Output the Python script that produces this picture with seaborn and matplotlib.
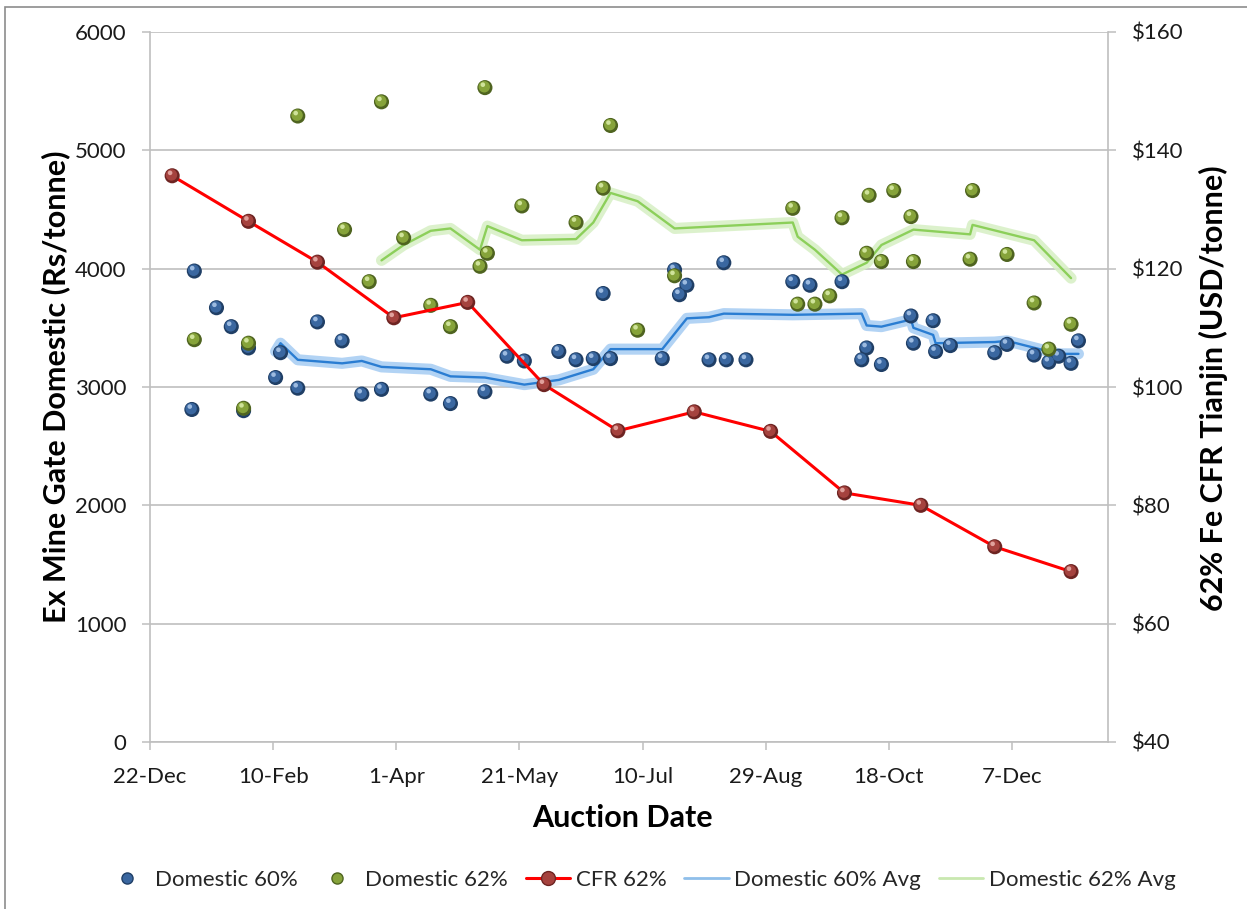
import pandas as pd
import matplotlib
matplotlib.use("Agg")
import matplotlib.pyplot as plt
import matplotlib.transforms as mtransforms
from matplotlib.lines import Line2D
from matplotlib.patches import Rectangle
from matplotlib.ticker import FuncFormatter, FixedLocator
import seaborn as sns

# Domestic 60% auction prices (Rs/tonne)
dom60_dates = ["2014-01-08", "2014-01-09", "2014-01-18", "2014-01-24", "2014-01-29", "2014-01-31",
               "2014-02-11", "2014-02-13", "2014-02-20", "2014-02-28", "2014-03-10", "2014-03-18",
               "2014-03-26", "2014-04-15", "2014-04-23", "2014-05-07", "2014-05-16", "2014-05-23",
               "2014-06-06", "2014-06-13", "2014-06-20", "2014-06-24", "2014-06-27", "2014-07-18",
               "2014-07-23", "2014-07-25", "2014-07-28", "2014-08-06", "2014-08-12", "2014-08-13",
               "2014-08-21", "2014-09-09", "2014-09-16", "2014-09-29", "2014-10-07", "2014-10-09",
               "2014-10-15", "2014-10-27", "2014-10-28", "2014-11-05", "2014-11-06", "2014-11-12",
               "2014-11-30", "2014-12-05", "2014-12-16", "2014-12-22", "2014-12-26", "2014-12-31",
               "2015-01-03"]
dom60_values = [2810, 3980, 3670, 3510, 2800, 3330,
                3080, 3290, 2990, 3550, 3390, 2940,
                2980, 2940, 2860, 2960, 3260, 3220,
                3300, 3230, 3240, 3790, 3240, 3240,
                3990, 3780, 3860, 3230, 4050, 3230,
                3230, 3890, 3860, 3890, 3230, 3330,
                3190, 3600, 3370, 3560, 3300, 3350,
                3290, 3360, 3270, 3210, 3260, 3200,
                3390]

# Domestic 62% auction prices (Rs/tonne)
dom62_dates = ["2014-01-09", "2014-01-29", "2014-01-31", "2014-02-20", "2014-03-11", "2014-03-21",
               "2014-03-26", "2014-04-04", "2014-04-15", "2014-04-23", "2014-05-05", "2014-05-07",
               "2014-05-08", "2014-05-22", "2014-06-13", "2014-06-24", "2014-06-27", "2014-07-08",
               "2014-07-23", "2014-09-09", "2014-09-11", "2014-09-18", "2014-09-24", "2014-09-29",
               "2014-10-09", "2014-10-10", "2014-10-15", "2014-10-20", "2014-10-27", "2014-10-28",
               "2014-11-20", "2014-11-21", "2014-12-05", "2014-12-16", "2014-12-22", "2014-12-31"]
dom62_values = [3400, 2820, 3370, 5290, 4330, 3890,
                5410, 4260, 3690, 3510, 4020, 5530,
                4130, 4530, 4390, 4680, 5210, 3480,
                3940, 4510, 3700, 3700, 3770, 4430,
                4130, 4620, 4060, 4660, 4440, 4060,
                4080, 4660, 4120, 3710, 3320, 3530]

# 62% Fe CFR Tianjin (USD/tonne), month end
cfr_dates = ["2013-12-31", "2014-01-31", "2014-02-28", "2014-03-31", "2014-04-30", "2014-05-31",
             "2014-06-30", "2014-07-31", "2014-08-31", "2014-09-30", "2014-10-31", "2014-11-30",
             "2014-12-31"]
cfr_values = [135.7, 128.0, 121.1, 111.7, 114.3, 100.4, 92.6, 95.8, 92.5, 82.1, 80.0, 73.0, 68.8]

# running averages
avg60_dates = ["2014-02-11", "2014-02-13", "2014-02-20", "2014-03-10", "2014-03-18", "2014-03-26",
               "2014-04-15", "2014-04-23", "2014-05-07", "2014-05-23", "2014-06-06", "2014-06-20",
               "2014-06-27", "2014-07-18", "2014-07-28", "2014-08-06", "2014-08-12", "2014-09-09",
               "2014-10-07", "2014-10-09", "2014-10-15", "2014-10-27", "2014-10-28", "2014-11-05",
               "2014-11-06", "2014-11-30", "2014-12-05", "2014-12-22", "2014-12-26", "2015-01-03"]
avg60_values = [3300, 3370, 3230, 3200, 3220, 3170,
                3150, 3090, 3080, 3020, 3060, 3150,
                3320, 3320, 3580, 3590, 3620, 3610,
                3620, 3520, 3510, 3570, 3500, 3440,
                3370, 3380, 3390, 3300, 3280, 3280]

avg62_dates = ["2014-03-26", "2014-04-04", "2014-04-15", "2014-04-23", "2014-05-05", "2014-05-08",
               "2014-05-22", "2014-06-13", "2014-06-20", "2014-06-27", "2014-07-08", "2014-07-23",
               "2014-09-09", "2014-09-11", "2014-09-18", "2014-09-29", "2014-10-09", "2014-10-15",
               "2014-10-28", "2014-11-20", "2014-11-21", "2014-12-16", "2014-12-31"]
avg62_values = [4070, 4200, 4320, 4340, 4160, 4360,
                4240, 4250, 4390, 4640, 4570, 4340,
                4390, 4270, 4160, 3950, 4050, 4200,
                4330, 4290, 4370, 4240, 3920]

x_ticks = pd.date_range("2013-12-22", periods=8, freq="50D")

sns.set_theme(style="white")
plt.rcParams["font.family"] = ["Lato", "DejaVu Sans"]

fig = plt.figure(figsize=(12.47, 9.09), dpi=100)
ax = fig.add_axes([150 / 1247, 1 - 742 / 909, 958 / 1247, 710 / 909])
ax2 = ax.twinx()

d60 = pd.to_datetime(pd.Series(dom60_dates))
d62 = pd.to_datetime(pd.Series(dom62_dates))
dcfr = pd.to_datetime(pd.Series(cfr_dates))
da60 = pd.to_datetime(pd.Series(avg60_dates))
da62 = pd.to_datetime(pd.Series(avg62_dates))

# averages with a soft glow
sns.lineplot(x=da60, y=avg60_values, ax=ax, color="#9fc8f2", lw=8, alpha=0.8,
             estimator=None, sort=False, zorder=2, legend=False)
sns.lineplot(x=da60, y=avg60_values, ax=ax, color="#2a7dd2", lw=1.7,
             estimator=None, sort=False, zorder=2.1, legend=False)
sns.lineplot(x=da62, y=avg62_values, ax=ax, color="#d6efc4", lw=8, alpha=0.85,
             estimator=None, sort=False, zorder=2, legend=False)
sns.lineplot(x=da62, y=avg62_values, ax=ax, color="#8ccf5a", lw=1.7,
             estimator=None, sort=False, zorder=2.1, legend=False)


def spheres(axis, x, y, dark, mid, light, z):
    # shaded ball markers
    sns.scatterplot(x=x, y=y, ax=axis, s=118, color=dark, edgecolor="none", zorder=z, legend=False)
    t1 = mtransforms.offset_copy(axis.transData, fig=fig, x=-0.5, y=0.6, units="points")
    axis.scatter(x, y, s=68, color=mid, edgecolors="none", transform=t1, zorder=z + 0.1)
    t2 = mtransforms.offset_copy(axis.transData, fig=fig, x=-1.5, y=2.1, units="points")
    axis.scatter(x, y, s=11, color=light, edgecolors="none", transform=t2, zorder=z + 0.2)


spheres(ax, d60, dom60_values, "#203f66", "#3a67a0", "#9dbbe0", 3)
spheres(ax, d62, dom62_values, "#4f6420", "#86a33a", "#cfe39a", 3.5)

sns.lineplot(x=dcfr, y=cfr_values, ax=ax2, color="#ff0000", lw=2.2,
             estimator=None, sort=False, zorder=2, legend=False)
spheres(ax2, dcfr, cfr_values, "#6e2422", "#a5423e", "#e0a19c", 3)

ax.set_xlim(pd.Timestamp("2013-12-22"), pd.Timestamp("2015-01-15"))
ax.set_ylim(0, 6000)
ax2.set_ylim(40, 160)
ax.set_yticks(range(0, 6001, 1000))
ax2.set_yticks(range(40, 161, 20))
ax2.yaxis.set_major_formatter(FuncFormatter(lambda v, p: f"${v:.0f}"))
ax.xaxis.set_major_locator(FixedLocator([matplotlib.dates.date2num(d) for d in x_ticks]))
ax.xaxis.set_major_formatter(FuncFormatter(
    lambda v, p: f"{matplotlib.dates.num2date(v).day}-{matplotlib.dates.num2date(v).strftime('%b')}"))
ax.set_xlabel("")
ax.set_ylabel("")
ax2.set_ylabel("")

grey = "#bfbfbf"
ax.yaxis.grid(True, color=grey, lw=1.2)
ax.xaxis.grid(False)
ax2.grid(False)
for a in (ax, ax2):
    a.spines["top"].set_visible(False)
    for s in ("left", "right", "bottom"):
        a.spines[s].set_color(grey)
        a.spines[s].set_linewidth(1.2)
ax.spines["right"].set_visible(False)
ax2.spines["left"].set_visible(False)
ax2.spines["bottom"].set_visible(False)

ax.tick_params(axis="both", which="major", length=6, width=1.1, color=grey,
               labelsize=16, labelcolor="#1a1a1a", direction="out", pad=10)
ax.tick_params(axis="y", left=True, pad=11)
ax.tick_params(axis="x", bottom=True, pad=12)
ax2.tick_params(axis="y", right=True, length=6, width=1.1, color=grey,
                labelsize=16, labelcolor="#1a1a1a", direction="out", pad=11)

fig.text(56 / 1247, 1 - 387 / 909, "Ex Mine Gate Domestic (Rs/tonne)", rotation=90,
         ha="center", va="center", fontsize=22, fontweight="bold", color="black")
fig.text(1213 / 1247, 1 - 388 / 909, "62% Fe CFR Tianjin (USD/tonne)", rotation=90,
         ha="center", va="center", fontsize=22, fontweight="bold", color="black")
fig.text(622 / 1247, 1 - 818 / 909, "Auction Date", ha="center", va="center",
         fontsize=22, fontweight="bold", color="black")

handles = [
    Line2D([], [], ls="none", marker="o", ms=8, color="#3a67a0", mec="#203f66"),
    Line2D([], [], ls="none", marker="o", ms=8, color="#86a33a", mec="#4f6420"),
    Line2D([], [], color="#ff0000", lw=2.2, marker="o", ms=10, mfc="#a5423e", mec="#6e2422"),
    Line2D([], [], color="#8fbfea", lw=2),
    Line2D([], [], color="#c9e8b0", lw=2),
]
labels = ["Domestic 60%", "Domestic 62%", "CFR 62%", "Domestic 60% Avg", "Domestic 62% Avg"]
fig.legend(handles, labels, loc="center", bbox_to_anchor=(640 / 1247, 1 - 880 / 909), ncol=5,
           frameon=False, fontsize=16, handlelength=2.0, handletextpad=0.25, columnspacing=0.8)

fig.patches.append(Rectangle((5 / 1247, -0.05), 1.2, 1.05 - 7 / 909, transform=fig.transFigure,
                             fill=False, edgecolor="#8c8c8c", lw=1.2))

fig.savefig("out.png", dpi=100)
